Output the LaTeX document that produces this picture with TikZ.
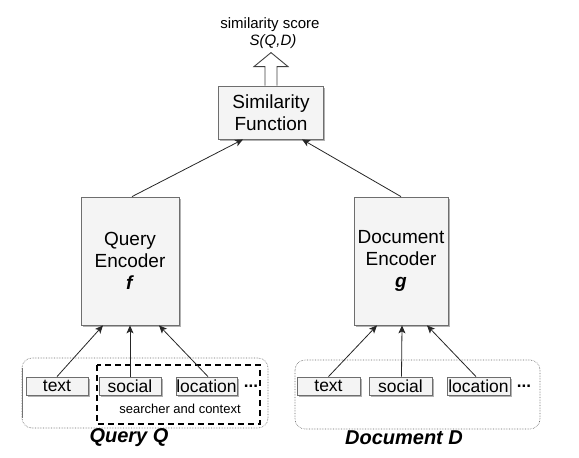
\documentclass[tikz,border=0pt]{standalone}
\usepackage{fontspec}
\setmainfont{Liberation Sans}
\usetikzlibrary{arrows.meta,shadows}
\definecolor{boxfill}{HTML}{F4F4F4}
\definecolor{boxline}{HTML}{6E6E6E}
\begin{document}
\begin{tikzpicture}[x=1pt,y=-1pt,
  shadowed/.style={drop shadow={shadow xshift=1.8pt,shadow yshift=-1.8pt,fill=black!30,opacity=1}},
  encbox/.style={draw=boxline,fill=boxfill,line width=0.8pt,shadowed,align=center,
    font=\fontsize{19}{22}\selectfont,inner sep=0pt},
  featbox/.style={draw=boxline,fill=boxfill,line width=0.8pt,shadowed,
    font=\fontsize{17.5}{20}\selectfont,inner sep=0pt,minimum height=18pt},
  groupbox/.style={draw=black!60,densely dotted,line width=0.6pt,rounded corners=10pt},
  ctxbox/.style={draw=black,dashed,dash pattern=on 6pt off 4pt,line width=1.4pt},
  conn/.style={draw=black!85,line width=0.8pt,-{Stealth[length=8pt,width=7pt,inset=2pt]}},
  lbl/.style={font=\fontsize{15}{17}\selectfont,inner sep=0pt},
  grouplbl/.style={font=\fontsize{20}{22}\selectfont\bfseries\itshape,inner sep=0pt},
  dotslbl/.style={font=\fontsize{17}{20}\selectfont\bfseries,inner sep=0pt}]
\useasboundingbox (0,0) rectangle (579,458);

% group frames
\draw[groupbox] (22,358) rectangle (268,428);
\draw[draw=black!55,line width=0.8pt] (22,368) -- (22,418);
\draw[groupbox] (295,360) rectangle (540,429);
\draw[ctxbox] (97,365) rectangle (260,424);

% main boxes
\node[encbox,minimum width=105pt,minimum height=53pt] (sim) at (271,112.5) {Similarity\\Function};
\node[encbox,minimum width=98pt,minimum height=128pt] (qenc) at (130,261) {Query\\Encoder\\\textbf{\itshape f}};
\node[encbox,minimum width=94pt,minimum height=128pt] (denc) at (401,261) {Document\\Encoder\\\textbf{\itshape g}};

% feature boxes
\node[featbox,minimum width=62pt] (qtext) at (57,386) {text};
\node[featbox,minimum width=62pt] (qsocial) at (130,386) {social};
\node[featbox,minimum width=61pt] (qloc) at (206.5,386) {location};
\node[dotslbl] (qdots) at (251,386) {...};
\node[lbl,font=\fontsize{13}{15}\selectfont] (ctx) at (180,409) {searcher and context};

\node[featbox,minimum width=63pt] (dtext) at (328.5,386) {text};
\node[featbox,minimum width=63pt] (dsocial) at (400.5,386) {social};
\node[featbox,minimum width=63pt] (dloc) at (478.5,386) {location};
\node[dotslbl] (ddots) at (524,386) {...};

% group labels
\node[grouplbl] (qlabel) at (129,438) {Query Q};
\node[grouplbl] (dlabel) at (404,438) {Document D};

% output labels
\node[lbl] (score) at (270,24.5) {similarity score};
\node[lbl] (sqd) at (273,41.5) {\itshape S(Q,D)};

% hollow output arrow
\draw[draw=black!75,fill=white,line width=0.9pt]
  ([xshift=-6pt]sim.north) -- ++(0,-19) -- ++(-11,0) -- ++(17,-14) -- ++(17,14)
  -- ++(-11,0) -- ([xshift=6pt]sim.north);

% connectors
\draw[conn] ([xshift=2pt]qenc.north) -- ([xshift=-28pt]sim.south);
\draw[conn] (denc.north) -- ([xshift=31pt]sim.south);
\draw[conn] (qtext.north) -- ([xshift=-27pt]qenc.south);
\draw[conn] (qsocial.north) -- (qenc.south);
\draw[conn] ([xshift=1.5pt]qloc.north) -- ([xshift=29pt]qenc.south);
\draw[conn] (dtext.north) -- ([xshift=-24pt]denc.south);
\draw[conn] ([xshift=1pt]dsocial.north) -- ([xshift=1pt]denc.south);
\draw[conn] ([xshift=-2.5pt]dloc.north) -- ([xshift=26pt]denc.south);
\end{tikzpicture}
\end{document}
